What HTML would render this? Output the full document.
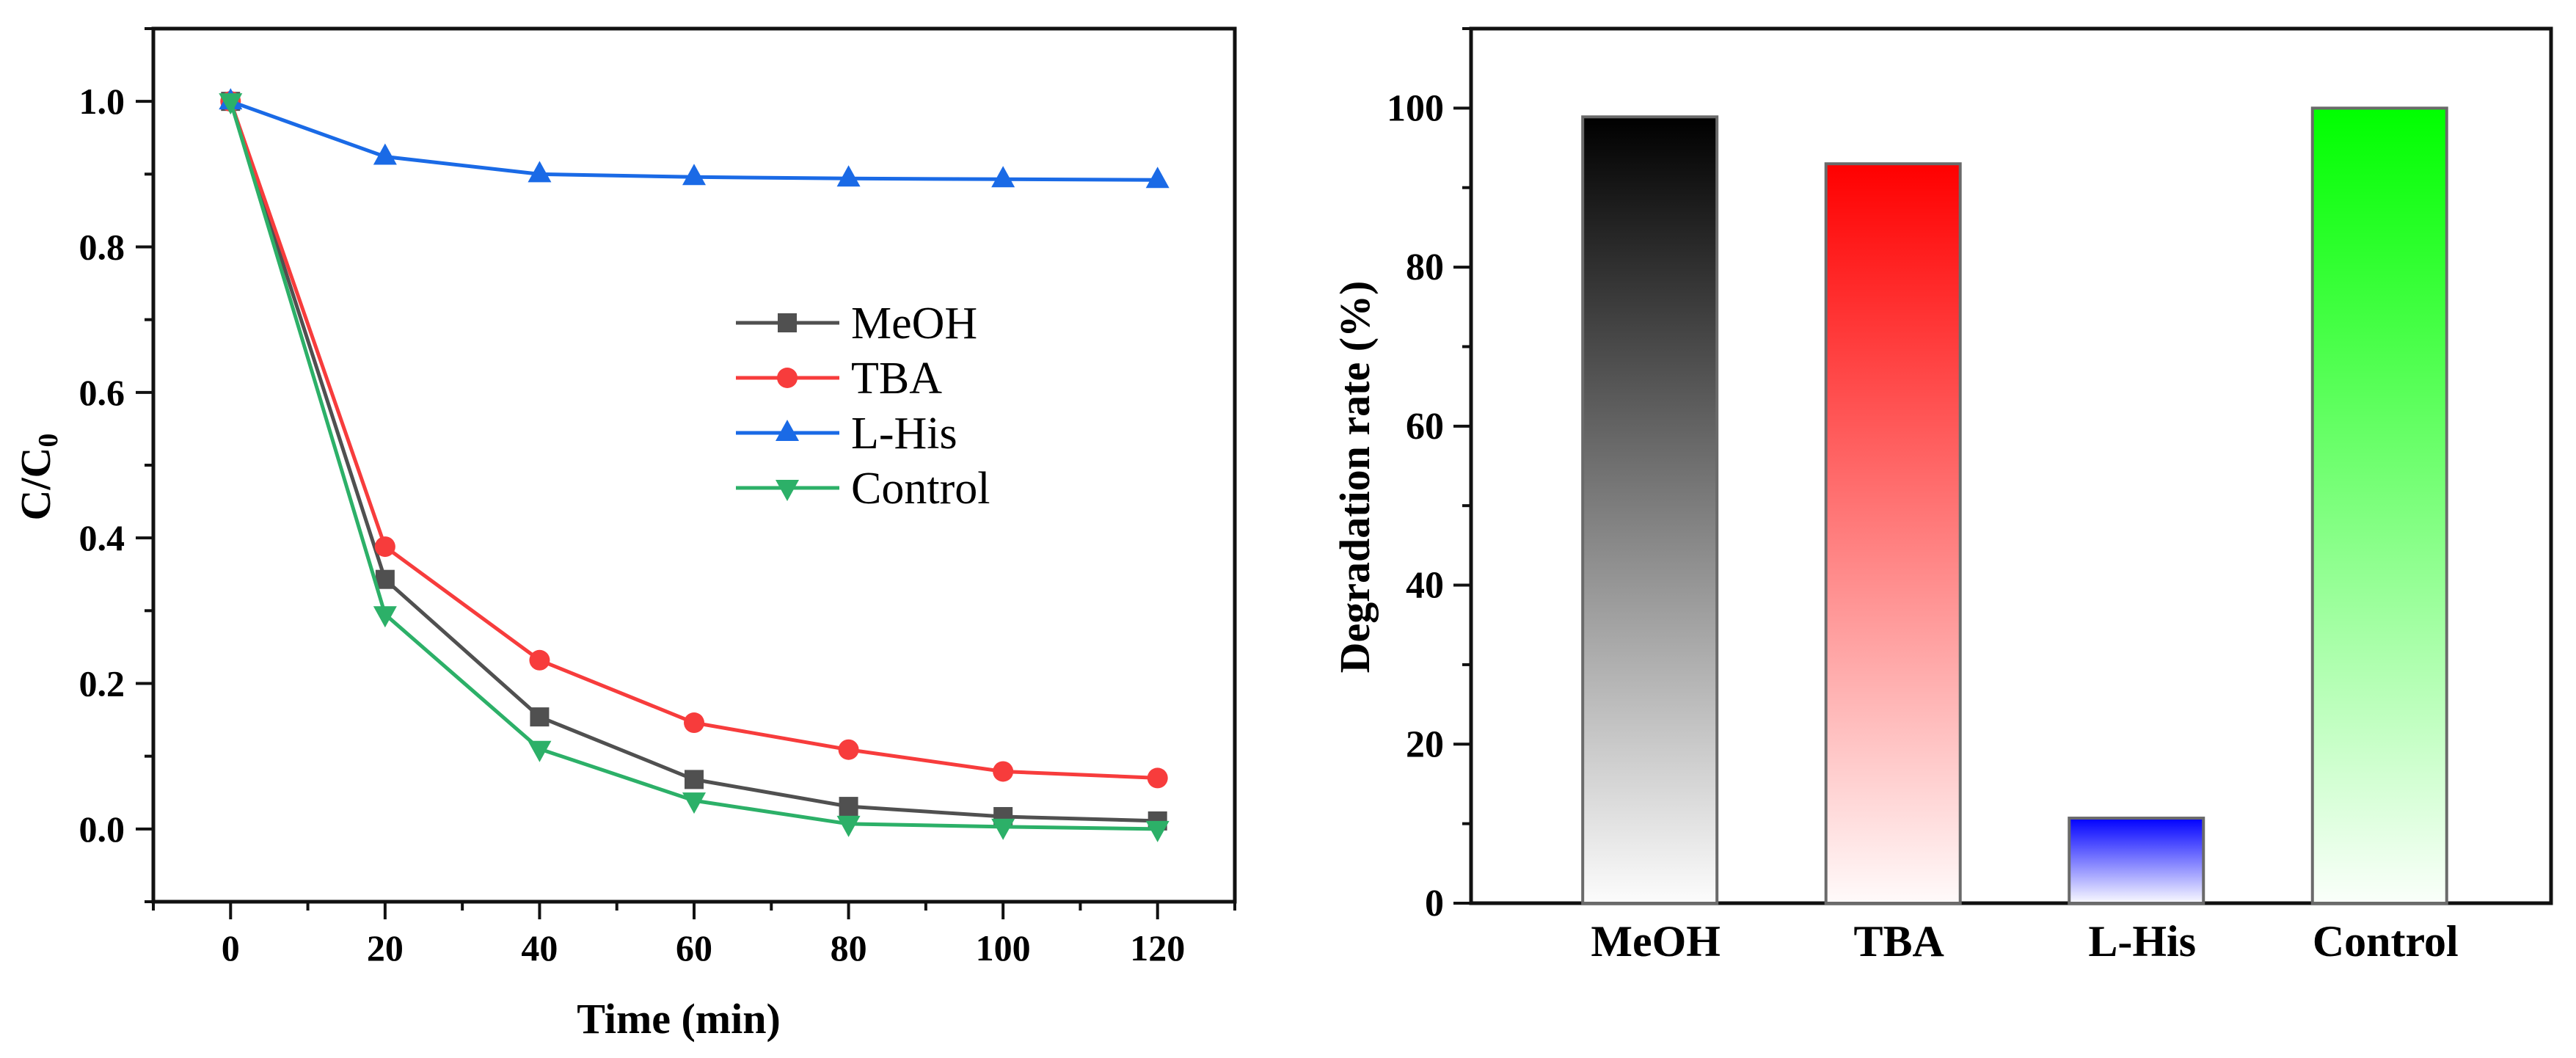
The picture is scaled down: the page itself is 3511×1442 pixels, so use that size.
<!DOCTYPE html>
<html><head><meta charset="utf-8"><style>
html,body{margin:0;padding:0;background:#fff;}
svg{display:block;font-family:"Liberation Serif","Times New Roman",serif;}
</style></head><body>
<svg id="fig" width="3511" height="1442" viewBox="0 0 3511 1442" xmlns="http://www.w3.org/2000/svg">
<defs>
<linearGradient id="g0" x1="0" y1="0" x2="0" y2="1"><stop offset="0" stop-color="#000"/><stop offset="1" stop-color="#fcfcfc"/></linearGradient>
<linearGradient id="g1" x1="0" y1="0" x2="0" y2="1"><stop offset="0" stop-color="#ff0000"/><stop offset="1" stop-color="#fffafa"/></linearGradient>
<linearGradient id="g2" x1="0" y1="0" x2="0" y2="1"><stop offset="0" stop-color="#0000ff"/><stop offset="1" stop-color="#fafaff"/></linearGradient>
<linearGradient id="g3" x1="0" y1="0" x2="0" y2="1"><stop offset="0" stop-color="#00ff00"/><stop offset="1" stop-color="#fafffa"/></linearGradient>
</defs>
<g id="left"></g>
<g id="right"></g>
</svg>
<script>
const timeMin = [0, 20, 40, 60, 80, 100, 120];
const meohValues = [1.0, 0.343, 0.154, 0.068, 0.031, 0.017, 0.011];
const tbaValues = [1.0, 0.388, 0.232, 0.146, 0.109, 0.079, 0.070];
const lhisValues = [1.0, 0.924, 0.900, 0.896, 0.894, 0.893, 0.892];
const controlValues = [1.0, 0.295, 0.110, 0.039, 0.007, 0.003, 0.0];
const xTickLabels = ["0","20","40","60","80","100","120"];
const yTickLabels = ["0.0","0.2","0.4","0.6","0.8","1.0"];
const barCategories = ["MeOH","TBA","L-His","Control"];
const barValues = [98.9, 93.0, 10.7, 100.0];
const barTickLabels = ["0","20","40","60","80","100"];

const NS = "http://www.w3.org/2000/svg";
function mk(parent, tag, attrs, text){
  const e = document.createElementNS(NS, tag);
  for (const k in attrs) e.setAttribute(k, attrs[k]);
  if (text !== undefined) e.textContent = text;
  parent.appendChild(e);
  return e;
}
// ---------- left chart ----------
const L = document.getElementById('left');
const lx0 = 209, lx1 = 1683, ly0 = 39, ly1 = 1229;
const xs = v => lx0 + (v + 10) / 140 * (lx1 - lx0);
const ys = v => ly1 - (v + 0.1) / 1.2 * (ly1 - ly0);
let e;
e = mk(L,'rect',{x:lx0,y:ly0,width:lx1-lx0,height:ly1-ly0,fill:'none',stroke:'#111','stroke-width':5});


for (let i = -1; i <= 13; i++) {
  const t = i * 10, x = xs(t), major = (i >= 0 && i % 2 === 0);
  e = mk(L,'line',{x1:x,y1:ly1,x2:x,y2:ly1+(major?24:12),stroke:'#111','stroke-width':4});
  
  
}
xTickLabels.forEach((s,i)=>{
  e = mk(L,'text',{x:xs(timeMin[i]),y:1309,'text-anchor':'middle','font-size':50,'font-weight':'bold'},s);
  
  
});
for (let i = -1; i <= 11; i++) {
  const v = i / 10, y = ys(v), major = (i >= 0 && i % 2 === 0);
  e = mk(L,'line',{x1:lx0,y1:y,x2:lx0-(major?24:12),y2:y,stroke:'#111','stroke-width':4});
  
  
}
yTickLabels.forEach((s,i)=>{
  e = mk(L,'text',{x:170,y:ys(i*0.2)+17,'text-anchor':'end','font-size':50,'font-weight':'bold'},s);
  
  
});
e = mk(L,'text',{x:925,y:1408,'text-anchor':'middle','font-size':58,'font-weight':'bold'},'Time (min)');


e = mk(L,'text',{transform:'translate(68,650) rotate(-90)','text-anchor':'middle','font-size':58,'font-weight':'bold'});


mk(e,'tspan',{},'C/C');
mk(e,'tspan',{'font-size':38,dy:10},'0');

const series = [
  {name:'MeOH', vals:meohValues, color:'#505050', m:'square'},
  {name:'TBA', vals:tbaValues, color:'#f73c3c', m:'circle'},
  {name:'L-His', vals:lhisValues, color:'#1a6ae6', m:'up'},
  {name:'Control', vals:controlValues, color:'#2cb068', m:'down'}
];
function marker(g, m, x, y, c){
  let el;
  if (m==='square') el = mk(g,'rect',{x:x-13,y:y-13,width:26,height:26,fill:c});
  else if (m==='circle') el = mk(g,'circle',{cx:x,cy:y,r:14,fill:c});
  else if (m==='up') el = mk(g,'polygon',{points:`${x},${y-18} ${x-16},${y+11} ${x+16},${y+11}`,fill:c});
  else el = mk(g,'polygon',{points:`${x},${y+18} ${x-16},${y-11} ${x+16},${y-11}`,fill:c});
  return el;
}
series.forEach((s,si)=>{
  const g = mk(L,'g',{});
  
  
  const pts = s.vals.map((v,i)=>xs(timeMin[i])+','+ys(v)).join(' ');
  e = mk(g,'polyline',{points:pts,fill:'none',stroke:s.color,'stroke-width':5});
  
  
  s.vals.forEach((v,i)=>{
    e = marker(g,s.m,xs(timeMin[i]),ys(v),s.color);
    
    
  });
  // legend
  const ly = 440 + si*75;
  const lg = mk(L,'g',{});
  
  
  mk(lg,'line',{x1:1003,y1:ly,x2:1144,y2:ly,stroke:s.color,'stroke-width':5});
  marker(lg,s.m,1073,ly,s.color);
  mk(lg,'text',{x:1160,y:ly+21,'font-size':62},s.name);
});

// ---------- right chart ----------
const R = document.getElementById('right');
const rx0 = 2005, rx1 = 3477, ry0 = 39, ry1 = 1231;
const yb = v => ry1 - v / 110 * (ry1 - ry0);
const barCenters = [2244, 2576, 2908, 3239]; // category slots
const bx = i => rx0 + (i + 0.735) * ((rx1 - rx0) / 4.44);
e = mk(R,'rect',{x:rx0,y:ry0,width:rx1-rx0,height:ry1-ry0,fill:'none',stroke:'#111','stroke-width':5});


barCategories.forEach((c,i)=>{
  const cx = bx(i), w = 183;
  e = mk(R,'rect',{x:cx-w/2,y:yb(barValues[i]),width:w,height:ry1-yb(barValues[i]),fill:`url(#g${i})`,stroke:'#6a6a6a','stroke-width':4});
  
  
  e = mk(R,'text',{x:cx+8,y:1303,'text-anchor':'middle','font-size':60,'font-weight':'bold'},c);
  
  
});
for (let i = 0; i <= 11; i++) {
  const v = i*10, y = yb(v), major = i % 2 === 0;
  e = mk(R,'line',{x1:rx0,y1:y,x2:rx0-(major?24:12),y2:y,stroke:'#111','stroke-width':4});
  
  
}
barTickLabels.forEach((s,i)=>{
  e = mk(R,'text',{x:1968,y:yb(i*20)+17,'text-anchor':'end','font-size':52,'font-weight':'bold'},s);
  
  
});
e = mk(R,'text',{transform:'translate(1866,650) rotate(-90)','text-anchor':'middle','font-size':58,'font-weight':'bold'},'Degradation rate (%)');


</script>
</body></html>
